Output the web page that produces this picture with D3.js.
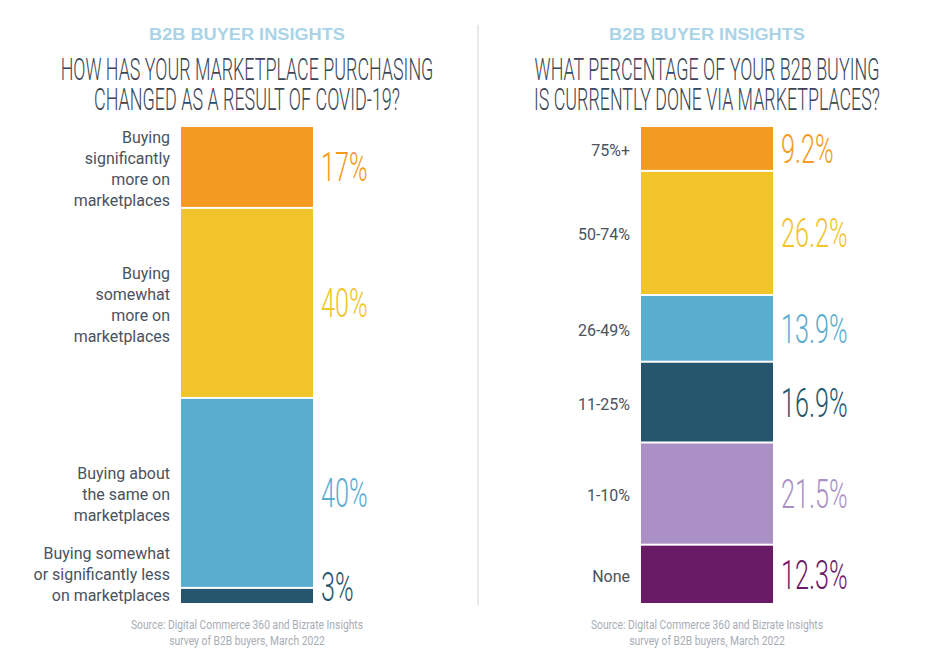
<!DOCTYPE html>
<html><head><meta charset="utf-8">
<script src="https://cdn.jsdelivr.net/npm/d3@7"></script>
<style>body{margin:0;background:#fff}svg{display:block}</style>
</head><body>
<svg id="c" width="936" height="672"></svg>
<script>
const kicker = "B2B BUYER INSIGHTS";
const leftTitle = ["HOW HAS YOUR MARKETPLACE PURCHASING", "CHANGED AS A RESULT OF COVID-19?"];
const rightTitle = ["WHAT PERCENTAGE OF YOUR B2B BUYING", "IS CURRENTLY DONE VIA MARKETPLACES?"];
const leftCategories = [
  ["Buying", "significantly", "more on", "marketplaces"],
  ["Buying", "somewhat", "more on", "marketplaces"],
  ["Buying about", "the same on", "marketplaces"],
  ["Buying somewhat", "or significantly less", "on marketplaces"]
];
const leftValues = [17, 40, 40, 3];
const leftLabels = ["17%", "40%", "40%", "3%"];
const leftColors = ["#f29a21", "#f0c42a", "#5badd0", "#25566d"];
const rightCategories = [["75%+"], ["50-74%"], ["26-49%"], ["11-25%"], ["1-10%"], ["None"]];
const rightValues = [9.2, 26.2, 13.9, 16.9, 21.5, 12.3];
const rightLabels = ["9.2%", "26.2%", "13.9%", "16.9%", "21.5%", "12.3%"];
const rightColors = ["#f29a21", "#f0c42a", "#5badd0", "#25566d", "#ab90c6", "#6a1b65"];
const source = ["Source: Digital Commerce 360 and Bizrate Insights", "survey of B2B buyers, March 2022"];

const svg = d3.select("#c");
const barTop = 127, barBottom = 603, gap = 2;

// divider
svg.append("line").attr("x1", 478).attr("x2", 478).attr("y1", 25).attr("y2", 605)
  .attr("stroke", "#d0d3d6").attr("stroke-width", 1);

// text squeezed horizontally to a target width (centered at cx)
function fitText(cx, y, str, width, attrs) {
  const g = svg.append("g");
  const t = g.append("text").attr("x", 0).attr("y", 0).attr("text-anchor", "middle");
  Object.entries(attrs).forEach(([k, v]) => t.attr(k, v));
  t.text(str);
  const w = t.node().getComputedTextLength();
  g.attr("transform", `translate(${cx},${y}) scale(${width / w},1)`);
}

function panel(cx, barX, titleLines, titleWidths, cats, vals, labels, colors) {
  fitText(cx, 40, kicker, 196, {"font-family": "Liberation Sans, Arial, sans-serif",
    "font-weight": "bold", "font-size": 17, "fill": "#a9d4e8"});
  titleLines.forEach((t, i) => {
    fitText(cx, 80 + i * 30, t, titleWidths[i], {"font-family": "Roboto, sans-serif",
      "font-weight": 300, "font-size": 32, "fill": "#3b4656"});
  });
  const n = vals.length;
  const h = d3.scaleLinear().domain([0, 100]).range([0, (barBottom - barTop) - gap * (n - 1)]);
  let y = barTop;
  const segs = vals.map((v, i) => {
    const s = {y0: y, y1: y + h(v), i};
    y = s.y1 + gap;
    return s;
  });
  const bw = 132;
  svg.selectAll(null).data(segs).join("rect")
    .attr("x", barX).attr("y", d => d.y0).attr("width", bw).attr("height", d => d.y1 - d.y0)
    .attr("fill", d => colors[d.i]);
  // value labels
  const valSize = 40;
  segs.forEach(s => {
    const c = (s.y0 + s.y1) / 2;
    const base = Math.min(c + valSize * 0.36, barBottom - 2);
    svg.append("g").attr("transform", `translate(${barX + bw + 8},${base}) scale(0.63,1)`)
      .append("text").attr("x", 0).attr("y", 0)
      .attr("font-family", "Roboto, sans-serif").attr("font-weight", 300)
      .attr("font-size", valSize).attr("fill", colors[s.i]).text(labels[s.i]);
  });
  // category labels
  segs.forEach(s => {
    const lines = cats[s.i];
    const lh = 21;
    const c = (s.y0 + s.y1) / 2;
    let first = c - (lines.length - 1) / 2 * lh + 7.5;
    const last = first + (lines.length - 1) * lh;
    if (last > barBottom - 2) first -= (last - (barBottom - 2));
    lines.forEach((ln, k) => {
      svg.append("g").attr("transform", `translate(${barX - 11},${first + k * lh}) scale(0.94,1)`)
        .append("text").attr("x", 0).attr("y", 0).attr("text-anchor", "end")
        .attr("font-family", "Roboto, sans-serif").attr("font-size", 17).attr("fill", "#4a5260")
        .text(ln);
    });
  });
  source.forEach((t, i) => {
    svg.append("g").attr("transform", `translate(${cx},${629 + i * 16}) scale(0.86,1)`)
      .append("text").attr("text-anchor", "middle")
      .attr("font-family", "Roboto, sans-serif").attr("font-size", 12).attr("fill", "#a7adb5")
      .text(t);
  });
}

panel(247, 181, leftTitle, [373, 306], leftCategories, leftValues, leftLabels, leftColors);
panel(707, 641, rightTitle, [345, 346], rightCategories, rightValues, rightLabels, rightColors);
</script>
</body></html>
